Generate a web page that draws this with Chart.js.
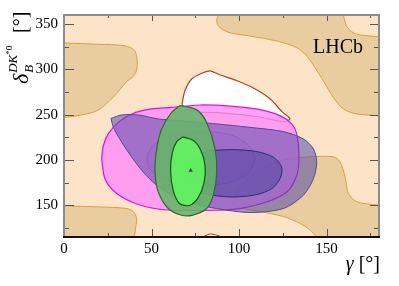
<!DOCTYPE html>
<html>
<head>
<meta charset="utf-8">
<script src="https://cdn.jsdelivr.net/npm/chart.js@4.4.1/dist/chart.umd.min.js"></script>
<style>
  html, body { margin: 0; padding: 0; background: #fff; }
  #chart { display: block; }
</style>
</head>
<body>
<canvas id="chart" width="399" height="286"></canvas>
<script>
const xMajorTicks = [0, 50, 100, 150];
const xMinorTicks = [25, 75, 125, 175];
const yMajorTicks = [150, 200, 250, 300, 350];
const yMinorTicks = [125, 175, 225, 275, 325];

// contour points [gamma, delta]
const tanTopLeft = [[-3,329],[0,329],[20,327.7],[33,326.5],[38,324],[40.6,320],[41.8,310],[41.3,298],[39,291],[36,287],[28,269],[19,254.5],[8,249],[0,247],[-3,247]];
const tanTopRight = [[88.2,363],[88.2,360],[87.2,353.3],[89.1,346],[94.9,340.4],[106.3,336.8],[121.5,331.3],[133,324],[138.7,314.8],[143.4,302],[148.2,287.4],[153.9,269],[159.6,256.3],[167.2,250.8],[180,248.9],[183,248.9],[183,336],[180,336],[171,337.6],[165.3,340.4],[161.5,347.8],[159.6,360],[159.6,363]];
const tanBottomLeft = [[-3,149.3],[0,149.3],[26,147.8],[35.8,146.4],[39.6,143.1],[41.5,135.7],[41.1,126.6],[40.2,114.8],[40,112],[-3,112]];
const tanBottomRight = [[183,150.3],[180,150.3],[167.2,154],[162.5,163.2],[160.6,181.5],[157.7,198],[153.9,203.5],[140.6,203.5],[128,201],[115,193],[104,178],[98,162],[96.8,150.3],[112,143.1],[125.3,137.6],[134.9,130],[140.6,122.7],[144.4,114.8],[145,112],[183,112]];
const whiteTop = [[67.4,261],[69.1,276.4],[73.1,289.6],[79.4,296.2],[83.4,298.4],[89.1,294],[98.9,287.4],[108,279.7],[117.7,267.6],[125.1,252.2],[129.1,245.6],[126.3,242.3],[110,248],[90,252],[72,254],[67.4,261]];
const whiteBottom = [[77,112],[79.4,115],[83.8,118.3],[90.1,115],[92,112]];
const pinkOuter = [[21.5,201.3],[22.5,215.9],[25.3,228.8],[31,241.5],[38.7,250.8],[50.1,256.3],[61.5,258],[77.7,260.7],[96.7,259.1],[112,255.5],[123.4,248.9],[130.1,239.8],[133,228.8],[134.3,204.9],[133,182.9],[127.3,164.6],[115.8,153.6],[100.6,146.4],[85.3,144.5],[61.5,144.5],[50.1,147],[38.7,153.6],[29.1,164.6],[23.4,179.3],[21.5,201.3]];
const pinkInner = [[109.4,201.6],[105.7,215.9],[94.9,228],[78.9,231.3],[63.4,228],[52,218],[47.5,203],[50,188],[63.4,175.3],[78.9,172],[94.9,175.3],[105.7,186.3],[109.4,201.6]];
const purpleOuter = [[26.9,245.9],[33,249.7],[42.5,249.7],[53.9,245.3],[66,243.5],[77.7,241.5],[87.3,239.8],[106.3,236],[125.3,231.3],[136.7,223.3],[142.5,212.3],[144.4,197.6],[142.5,179.3],[136.7,161],[125.3,146.4],[106.3,142],[87.3,146.4],[74,152],[62,161],[52,173.8],[45.3,186.6],[38.7,203.1],[33,219.6],[28.2,236],[26.9,245.9]];
const purpleInner = [[83.4,210.4],[96.7,211.5],[110.1,209.3],[119.6,203.1],[124.4,192.1],[123.4,179.3],[118.7,168.4],[110.1,161.8],[96.7,159.1],[85.3,161],[76,166],[69,178],[69,194],[75,205],[83.4,210.4]];
const greenOuter = [[66.3,260],[71,258.5],[76.6,254.4],[81.5,241.5],[86.3,212.3],[87.3,186.6],[85.3,161],[81.5,146.4],[73.7,139.2],[67.3,139],[59.6,146.4],[53.9,164.6],[52,186.6],[53,212.3],[55.8,234.3],[61.5,252.5],[66.3,260]];
const greenInner = [[68,225.5],[74,221.4],[78.2,210.4],[80.6,193.9],[80,174.7],[76.6,158.2],[71.6,149.8],[66,152],[62.4,166.5],[60.9,188.5],[61.9,208.2],[64.4,220.3],[68,225.5]];
const bestFit = [[72.4,188.5]];

const serif = '"Liberation Serif", "DejaVu Serif", serif';

function region(points, fillColor, lineColor, lineWidth) {
  return {
    data: points.map(p => ({ x: p[0], y: p[1] })),
    showLine: true,
    fill: 'shape',
    backgroundColor: fillColor,
    borderColor: lineColor,
    borderWidth: lineWidth,
    pointRadius: 0,
    tension: 0.3
  };
}

// bottom layer first
const layers = [
  region(tanTopLeft, '#e9cca0', '#d9a23e', 1),
  region(tanTopRight, '#e9cca0', '#d9a23e', 1),
  region(tanBottomLeft, '#e9cca0', '#d9a23e', 1),
  region(tanBottomRight, '#e9cca0', '#d9a23e', 1),
  region(whiteTop, '#ffffff', '#b0441a', 1.2),
  region(whiteBottom, '#ffffff', '#b0441a', 1.2),
  region(pinkOuter, 'rgba(255,140,250,0.8)', '#dd10dd', 1.2),
  region(pinkInner, 'rgba(240,120,240,0.25)', 'rgba(200,90,220,0.6)', 1),
  region(purpleOuter, 'rgba(85,75,170,0.55)', '#4e4e94', 1),
  region(purpleInner, 'rgba(60,60,150,0.45)', '#2e2e78', 1),
  region(greenOuter, 'rgba(100,182,104,0.88)', '#2f6a34', 1.2),
  region(greenInner, 'rgba(98,238,98,0.97)', '#0f5a14', 1.2),
  {
    data: bestFit.map(p => ({ x: p[0], y: p[1] })),
    showLine: false,
    pointStyle: 'triangle',
    pointRadius: 2.5,
    backgroundColor: '#3a4a3a',
    borderColor: '#3a4a3a',
    borderWidth: 0
  }
];
layers.forEach((d, i) => { d.order = layers.length - i; });

const frame = {
  id: 'frame',
  beforeDraw(chart) {
    const { ctx, chartArea: a } = chart;
    ctx.save();
    ctx.fillStyle = '#fde4c8';
    ctx.fillRect(a.left, a.top, a.right - a.left, a.bottom - a.top);
    ctx.restore();
  },
  afterDraw(chart) {
    const { ctx, chartArea: a, scales: { x, y } } = chart;
    ctx.save();
    ctx.strokeStyle = '#555';
    ctx.lineWidth = 1;
    const tick = (x1, y1, x2, y2) => { ctx.beginPath(); ctx.moveTo(x1, y1); ctx.lineTo(x2, y2); ctx.stroke(); };
    xMajorTicks.forEach(v => {
      const px = Math.round(x.getPixelForValue(v)) + 0.5;
      tick(px, a.bottom, px, a.bottom - 8);
      tick(px, a.top, px, a.top + 6);
    });
    xMinorTicks.forEach(v => {
      const px = Math.round(x.getPixelForValue(v)) + 0.5;
      tick(px, a.bottom, px, a.bottom - 4);
      tick(px, a.top, px, a.top + 3);
    });
    yMajorTicks.forEach(v => {
      const py = Math.round(y.getPixelForValue(v)) + 0.5;
      tick(a.left, py, a.left + 10, py);
      tick(a.right, py, a.right - 9, py);
    });
    yMinorTicks.forEach(v => {
      const py = Math.round(y.getPixelForValue(v)) + 0.5;
      tick(a.left, py, a.left + 5, py);
      tick(a.right, py, a.right - 5, py);
    });
    ctx.lineWidth = 2;
    ctx.strokeStyle = '#8c8c8c';
    ctx.beginPath();
    ctx.moveTo(a.left, a.bottom);
    ctx.lineTo(a.left, a.top);
    ctx.lineTo(a.right, a.top);
    ctx.lineTo(a.right, a.bottom);
    ctx.stroke();
    ctx.strokeStyle = '#111';
    ctx.beginPath();
    ctx.moveTo(a.left - 1, a.bottom);
    ctx.lineTo(a.right + 1, a.bottom);
    ctx.stroke();

    ctx.fillStyle = '#000';
    ctx.textBaseline = 'alphabetic';
    ctx.textAlign = 'left';
    ctx.font = '20px ' + serif;
    ctx.fillText('LHCb', 313, 53);

    // x title
    ctx.textAlign = 'right';
    ctx.font = '20px ' + serif;
    ctx.fillText('[°]', 380, 270);
    const bw = ctx.measureText(' [°]').width;
    ctx.font = 'italic 20px ' + serif;
    ctx.fillText('γ', 380 - bw, 270);

    // y title
    ctx.translate(28, 84);
    ctx.rotate(-Math.PI / 2);
    ctx.textAlign = 'left';
    ctx.font = 'italic 22px ' + serif;
    ctx.fillText('δ', 0, 0);
    const dw = ctx.measureText('δ').width;
    ctx.font = 'italic 13px ' + serif;
    ctx.fillText('B', dw + 1, 5);
    ctx.fillText('DK', dw + 1, -11);
    const kw = ctx.measureText('DK').width;
    ctx.font = '9px ' + serif;
    ctx.fillText('*0', dw + 1 + kw, -16);
    ctx.font = '20px ' + serif;
    ctx.fillText('[°]', 51, -1);
    ctx.restore();
  }
};

new Chart(document.getElementById('chart'), {
  type: 'scatter',
  data: { datasets: layers },
  options: {
    responsive: false,
    animation: false,
    devicePixelRatio: 1,
    layout: { padding: { left: 0, right: 20, top: 14, bottom: 0 } },
    plugins: { legend: { display: false }, tooltip: { enabled: false } },
    scales: {
      x: {
        type: 'linear', min: 0, max: 180,
        afterBuildTicks: s => { s.ticks = xMajorTicks.map(v => ({ value: v })); },
        afterFit: s => { s.height = 49; },
        grid: { display: false, drawTicks: false },
        border: { display: false },
        ticks: { padding: 3, color: '#000', font: { family: serif, size: 15 } }
      },
      y: {
        type: 'linear', min: 115, max: 360,
        afterBuildTicks: s => { s.ticks = yMajorTicks.map(v => ({ value: v })); },
        afterFit: s => { s.width = 64; },
        grid: { display: false, drawTicks: false },
        border: { display: false },
        ticks: { padding: 6, color: '#000', font: { family: serif, size: 15 } }
      }
    }
  },
  plugins: [frame]
});
</script>
</body>
</html>
